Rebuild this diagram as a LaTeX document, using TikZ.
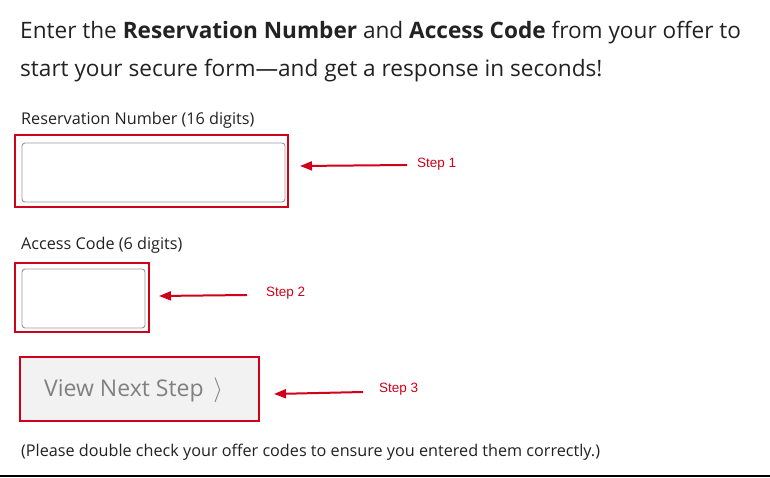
\documentclass[tikz,border=0pt]{standalone}
\usepackage{fontspec}
\setmainfont{Open Sans}
\newfontfamily\stepfont{Liberation Sans}
\usetikzlibrary{arrows.meta}
\definecolor{redbox}{HTML}{D0021B}
\definecolor{txt}{HTML}{222222}
\tikzset{
  redframe/.style={draw=redbox, line width=2.4pt},
  field/.style={draw=gray!80, line width=0.9pt, rounded corners=3pt, fill=white},
  pointer/.style={draw=redbox, line width=2pt, -{Triangle[length=12pt,width=9pt]}},
  steplabel/.style={text=redbox, font=\stepfont\fontsize{13.5}{15}\selectfont, anchor=west, inner sep=0pt},
  label/.style={text=txt, font=\fontsize{16.2}{18}\selectfont, anchor=west, inner sep=0pt},
}
\begin{document}
\begin{tikzpicture}[x=1pt,y=-1pt]
\useasboundingbox[fill=white] (0,0) rectangle (770,478);
\node[text=txt, anchor=base west, inner sep=0pt, font=\fontsize{22.6}{25}\selectfont] (t1) at (20,39) {Enter the \textbf{Reservation Number} and \textbf{Access Code} from your offer to};
\node[text=txt, anchor=base west, inner sep=0pt, font=\fontsize{22.6}{25}\selectfont] (t2) at (20,77) {start your secure form—and get a response in seconds!};
\node[label] (l1) at (21,120) {Reservation Number (16 digits)};
\draw[redframe] (15,135) rectangle (288,207);
\draw[field] (22,143) rectangle (285,202);
\coordinate (b1) at (300,166);
\node[steplabel] (s1) at (417,164) {Step 1};
\draw[pointer] (407,165) -- (b1);
\node[label] (l2) at (21,245) {Access Code (6 digits)};
\draw[redframe] (15,263) rectangle (149,332);
\draw[field] (22,269) rectangle (145,328);
\coordinate (b2) at (159,296);
\node[steplabel] (s2) at (266,293) {Step 2};
\draw[pointer] (247,295) -- (b2);
\draw[redframe, fill=gray!10] (20,357) rectangle (259,421);
\node[text=gray, anchor=west, inner sep=0pt, font=\fontsize{23}{26}\selectfont] (btn) at (44,390) {View Next Step\, $\rangle$};
\coordinate (b3) at (274,394);
\node[steplabel] (s3) at (379,389) {Step 3};
\draw[pointer] (363,392) -- (b3);
\node[label] (f) at (21,452) {(Please double check your offer codes to ensure you entered them correctly.)};
\draw[line width=1.5pt] (0,476) -- (770,476);
\end{tikzpicture}
\end{document}
